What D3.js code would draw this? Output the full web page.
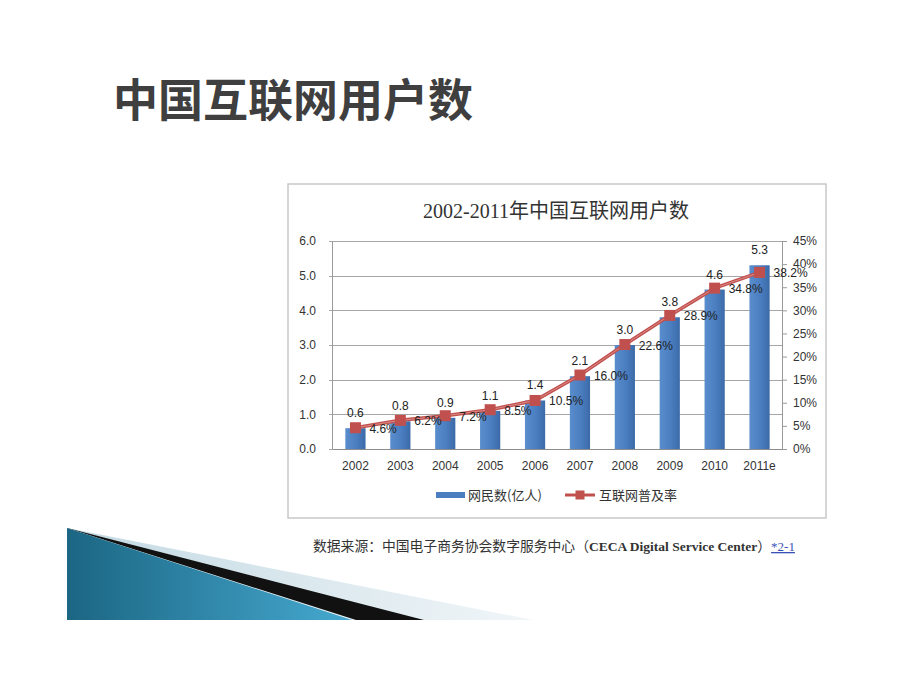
<!DOCTYPE html>
<html>
<head>
<meta charset="utf-8">
<script src="https://cdn.jsdelivr.net/npm/d3@7"></script>
<style>
    html, body { margin: 0; padding: 0; background: #fff; }
    svg { display: block; }
</style>
</head>
<body>
<svg id="Slide" width="920" height="690"></svg>
<script>
(function(window) {
    'use strict';

    // data
    var years = ['2002', '2003', '2004', '2005', '2006', '2007', '2008', '2009', '2010', '2011e'];
    var users = [0.6, 0.8, 0.9, 1.1, 1.4, 2.1, 3.0, 3.8, 4.6, 5.3];       // 亿人
    var rates = [4.6, 6.2, 7.2, 8.5, 10.5, 16.0, 22.6, 28.9, 34.8, 38.2]; // %
    var leftTicks = [0, 1, 2, 3, 4, 5, 6];
    var rightTicks = [0, 5, 10, 15, 20, 25, 30, 35, 40, 45];

    var SANS = '"Liberation Sans", "Noto Sans CJK SC", sans-serif';
    var CJK = '"Noto Sans CJK SC", "Liberation Sans", sans-serif';
    var SERIF = '"Liberation Serif", "Noto Sans CJK SC", serif';

    var svg = d3.select('#Slide');
    var defs = svg.append('defs');

    /******************************************************************
        slide heading + corner decoration
     ******************************************************************/
    svg.append('text')
        .attr('x', 113).attr('y', 117)
        .style('font-family', CJK)
        .style('font-size', '45px')
        .style('font-weight', 700)
        .style('fill', '#3f3f3f')
        .text('中国互联网用户数');

    var blueGrad = defs.append('linearGradient')
        .attr('id', 'triBlue')
        .attr('x1', '0').attr('y1', '0').attr('x2', '1').attr('y2', '0');
    blueGrad.append('stop').attr('offset', '0%').attr('stop-color', '#1b6683');
    blueGrad.append('stop').attr('offset', '100%').attr('stop-color', '#46a9d0');

    var lightGrad = defs.append('linearGradient')
        .attr('id', 'triLight')
        .attr('x1', '0').attr('y1', '0').attr('x2', '1').attr('y2', '0');
    lightGrad.append('stop').attr('offset', '0%').attr('stop-color', '#c3d9e3');
    lightGrad.append('stop').attr('offset', '100%').attr('stop-color', '#f1f6f8');

    var apex = [67, 528], base = 620;
    var tri = function(xr) {
        return 'M' + apex[0] + ',' + apex[1] + 'L' + xr + ',' + base + 'L' + apex[0] + ',' + base + 'Z';
    };
    svg.append('path').attr('d', tri(533)).style('fill', 'url(#triLight)');
    svg.append('path').attr('d', tri(424)).style('fill', '#111');
    svg.append('path').attr('d', tri(356)).style('fill', '#e8f1f5');
    svg.append('path').attr('d', tri(352)).style('fill', 'url(#triBlue)');

    /******************************************************************
        chart frame
     ******************************************************************/
    svg.append('rect')
        .attr('x', 288).attr('y', 184)
        .attr('width', 538).attr('height', 334)
        .style('fill', '#fff')
        .style('stroke', '#c8c8c8')
        .style('stroke-width', 1.5);

    svg.append('text')
        .attr('x', 556).attr('y', 218)
        .attr('text-anchor', 'middle')
        .style('font-family', SERIF)
        .style('font-size', '20px')
        .style('fill', '#333')
        .text('2002-2011年中国互联网用户数');

    var plot = { left: 333, right: 782, top: 241, bottom: 449 };

    var x = d3.scaleBand()
        .domain(years)
        .range([plot.left, plot.right])
        .paddingInner(0.55)
        .paddingOuter(0.275);

    var xc = function(year) { return x(year) + x.bandwidth() / 2; };

    var yL = d3.scaleLinear().domain([0, 6]).range([plot.bottom, plot.top]);
    var yR = d3.scaleLinear().domain([0, 45]).range([plot.bottom, plot.top]);

    // gridlines
    svg.append('g')
        .selectAll('line')
        .data(leftTicks)
        .join('line')
            .attr('x1', plot.left - 4).attr('x2', plot.right)
            .attr('y1', function(d) { return Math.round(yL(d)) + 0.5; })
            .attr('y2', function(d) { return Math.round(yL(d)) + 0.5; })
            .style('stroke', '#a6a6a6')
            .style('stroke-width', 1);

    // left axis labels
    var gL = svg.append('g')
        .attr('transform', 'translate(' + (plot.left - 1) + ',0)')
        .call(d3.axisLeft(yL).tickValues(leftTicks).tickFormat(d3.format('.1f')).tickSize(0).tickPadding(16));
    gL.select('.domain').style('stroke', '#9a9a9a');

    // right axis
    var gR = svg.append('g')
        .attr('transform', 'translate(' + plot.right + ',0)')
        .call(d3.axisRight(yR).tickValues(rightTicks).tickFormat(function(d) { return d + '%'; })
            .tickSize(5).tickPadding(6));
    gR.select('.domain').style('stroke', '#9a9a9a');
    gR.selectAll('.tick line').style('stroke', '#9a9a9a');

    // bottom axis
    var gB = svg.append('g')
        .attr('transform', 'translate(0,' + plot.bottom + ')')
        .call(d3.axisBottom(x).tickSize(0).tickPadding(12));
    gB.select('.domain').style('stroke', '#8c8c8c');

    [gL, gR, gB].forEach(function(g) {
        g.selectAll('text')
            .style('font-family', SANS)
            .style('font-size', '12px')
            .style('fill', '#333');
    });

    /******************************************************************
        bars
     ******************************************************************/
    var barGrad = defs.append('linearGradient')
        .attr('id', 'barBlue')
        .attr('x1', '0').attr('y1', '0').attr('x2', '1').attr('y2', '0');
    barGrad.append('stop').attr('offset', '0%').attr('stop-color', '#5a8dcc');
    barGrad.append('stop').attr('offset', '55%').attr('stop-color', '#4a7ec0');
    barGrad.append('stop').attr('offset', '100%').attr('stop-color', '#3c6aa8');

    var rows = years.map(function(y, i) { return { year: y, users: users[i], rate: rates[i] }; });

    svg.append('g')
        .selectAll('rect')
        .data(rows)
        .join('rect')
            .attr('x', function(d) { return x(d.year); })
            .attr('width', x.bandwidth())
            .attr('y', function(d) { return yL(d.users); })
            .attr('height', function(d) { return plot.bottom - yL(d.users); })
            .style('fill', 'url(#barBlue)');

    svg.append('g')
        .selectAll('text')
        .data(rows)
        .join('text')
            .attr('x', function(d) { return xc(d.year); })
            .attr('y', function(d) { return yL(d.users) - 11; })
            .attr('text-anchor', 'middle')
            .style('font-family', SANS)
            .style('font-size', '12px')
            .style('fill', '#222')
            .text(function(d) { return d.users.toFixed(1); });

    /******************************************************************
        penetration line
     ******************************************************************/
    var line = d3.line()
        .x(function(d) { return xc(d.year); })
        .y(function(d) { return yR(d.rate); });

    svg.append('path')
        .datum(rows)
        .attr('d', line)
        .style('fill', 'none')
        .style('stroke', '#c0504d')
        .style('stroke-width', 3.5);
    svg.append('path')
        .datum(rows)
        .attr('d', line)
        .style('fill', 'none')
        .style('stroke', '#dc8a87')
        .style('stroke-width', 1);

    svg.append('g')
        .selectAll('rect')
        .data(rows)
        .join('rect')
            .attr('x', function(d) { return xc(d.year) - 5.5; })
            .attr('y', function(d) { return yR(d.rate) - 5.5; })
            .attr('width', 11).attr('height', 11)
            .style('fill', '#c0504d');

    svg.append('g')
        .selectAll('text')
        .data(rows)
        .join('text')
            .attr('x', function(d) { return xc(d.year) + 14; })
            .attr('y', function(d) { return yR(d.rate) + 5; })
            .style('font-family', SANS)
            .style('font-size', '12px')
            .style('fill', '#222')
            .text(function(d) { return d.rate.toFixed(1) + '%'; });

    /******************************************************************
        legend
     ******************************************************************/
    var lg = svg.append('g').attr('transform', 'translate(0,495)');
    lg.append('rect')
        .attr('x', 436).attr('y', -3).attr('width', 29).attr('height', 6)
        .style('fill', '#4a7ec0');
    lg.append('text')
        .attr('x', 468).attr('y', 5)
        .style('font-family', CJK).style('font-size', '13px').style('fill', '#333')
        .text('网民数(亿人)');
    lg.append('line')
        .attr('x1', 565).attr('x2', 595).attr('y1', 0).attr('y2', 0)
        .style('stroke', '#c0504d').style('stroke-width', 3);
    lg.append('rect')
        .attr('x', 575.5).attr('y', -4.5).attr('width', 9).attr('height', 9)
        .style('fill', '#c0504d');
    lg.append('text')
        .attr('x', 599).attr('y', 5)
        .style('font-family', CJK).style('font-size', '13px').style('fill', '#333')
        .text('互联网普及率');

    /******************************************************************
        source note
     ******************************************************************/
    var src = svg.append('text')
        .attr('x', 313).attr('y', 551)
        .style('font-family', SERIF)
        .style('fill', '#333');
    src.append('tspan')
        .style('font-size', '13.8px')
        .text('数据来源：中国电子商务协会数字服务中心（');
    src.append('tspan')
        .style('font-size', '13.5px')
        .style('font-weight', 700)
        .text('CECA Digital Service Center');
    src.append('tspan')
        .style('font-size', '13.8px')
        .text('）');
    src.append('tspan')
        .style('font-size', '13px')
        .style('fill', '#3a52b8')
        .style('text-decoration', 'underline')
        .text('*2-1');

})(window);
</script>
</body>
</html>
